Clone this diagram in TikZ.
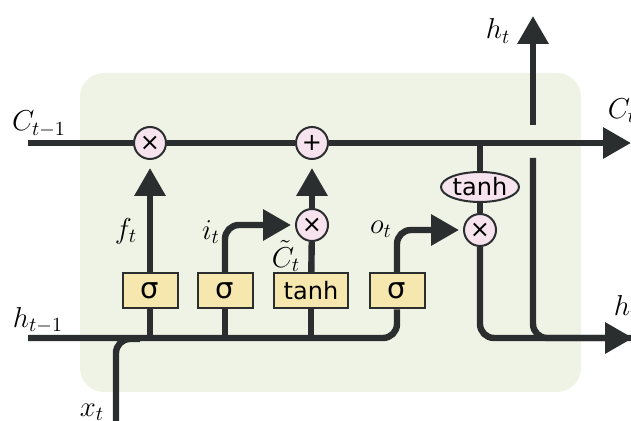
\documentclass[tikz,border=0pt]{standalone}
\usepackage{fontspec}
\setsansfont{DejaVu Sans}
\usetikzlibrary{arrows.meta,shapes.geometric}
\definecolor{colCell}  {HTML}{EFF3E6}
\definecolor{colOp}    {HTML}{F7E3EE}
\definecolor{colGate}  {HTML}{F6E7AE}
\definecolor{colInk}   {HTML}{2A2E2F}
\tikzset{
  wire/.style   ={line width=3.2pt, draw=colInk},
  flow/.style   ={wire, -{Triangle[length=14pt,width=15pt]}, shorten >=2pt},
  joint/.style  ={wire, rounded corners=7pt},
  op/.style     ={circle, draw=colInk, fill=colOp, line width=1pt,
                  minimum size=16pt, inner sep=0pt, font=\sffamily\large},
  gate/.style   ={rectangle, draw=colInk, fill=colGate, line width=1pt,
                  minimum width=27.5pt, minimum height=17.5pt,
                  inner xsep=5pt, inner ysep=0pt, font=\sffamily\fontsize{12}{13}\selectfont},
  siggate/.style={gate, font=\sffamily\fontsize{14.5}{15}\selectfont},
  act/.style    ={ellipse, draw=colInk, fill=colOp, line width=1pt,
                  minimum width=39pt, minimum height=15pt, inner sep=0pt,
                  font=\sffamily\fontsize{12}{13}\selectfont},
  lbl/.style    ={inner sep=0pt, font=\fontsize{14}{16}\selectfont}
}

\begin{document}
\begin{tikzpicture}[x=0.5pt, y=-0.5pt]
    \useasboundingbox (0,0) rectangle (631,421);
    \fill[colCell, rounded corners=12pt] (80,73) rectangle (581,392);

    % pointwise operations and gates
    \node[op]      (mf) at (150,143) {×};
    \node[op]      (ma) at (312,143) {+};
    \node[op]      (mi) at (312,225) {×};
    \node[op]      (mo) at (480,230) {×};
    \node[act]     (th) at (480,187) {tanh};
    \node[siggate] (sf) at (150,291) {σ};
    \node[siggate] (si) at (225,291) {σ};
    \node[gate]    (st) at (311,291) {tanh};
    \node[siggate] (so) at (397,291) {σ};

    \coordinate (cin)    at (28,143);
    \coordinate (cout)   at (635,143);
    \coordinate (hin)    at (28,338);
    \coordinate (hout)   at (637,338);
    \coordinate (xin)    at (116,430);
    \coordinate (xjoin)  at (140,339);
    \coordinate (hsplit) at (533,158);
    \coordinate (hup)    at (533,125);
    \coordinate (htop)   at (533,12);

    % labels
    \node[lbl] (lCin)  at (39,124)  {$C_{t-1}$};
    \node[lbl] (lHin)  at (38,320)  {$h_{t-1}$};
    \node[lbl] (lX)    at (92,412)  {$x_t$};
    \node[lbl] (lF)    at (126,231) {$f_t$};
    \node[lbl] (lI)    at (211,232) {$i_t$};
    \node[lbl] (lCt)   at (286,256) {$\tilde{C}_t$};
    \node[lbl] (lO)    at (381,229) {$o_t$};
    \node[lbl] (lHt)   at (498,31)  {$h_t$};
    \node[lbl] (lCout) at (622,111) {$C_t$};
    \node[lbl] (lHout) at (626,308) {$h_t$};

    % cell state
    \draw[wire] (cin) -- (mf);
    \draw[wire] (mf) -- (ma);
    \draw[flow] (ma) -- (cout);
    \draw[wire] (th) -- (th |- ma);
    \draw[wire] (mo) -- (th);

    % hidden state and input
    \draw[joint] (hin) -| (so);
    \draw[joint] (xin) |- (xjoin);
    \draw[wire] (sf) -- (sf |- hin);
    \draw[wire] (si) -- (si |- hin);
    \draw[wire] (st) -- (st |- hin);

    % gate outputs
    \draw[flow, shorten >=4pt] (sf) -- (mf);
    \draw[flow, rounded corners=7pt] (si) |- (mi);
    \draw[wire] (st) -- (mi);
    \draw[flow, shorten >=4pt] (mi) -- (ma);
    \draw[flow, rounded corners=7pt] (so) |- (mo);

    % output
    \draw[flow, rounded corners=7pt] (mo) |- (hout);
    \draw[joint] (hsplit) |- (hout);
    \draw[flow] (hup) -- (htop);
\end{tikzpicture}
\end{document}
